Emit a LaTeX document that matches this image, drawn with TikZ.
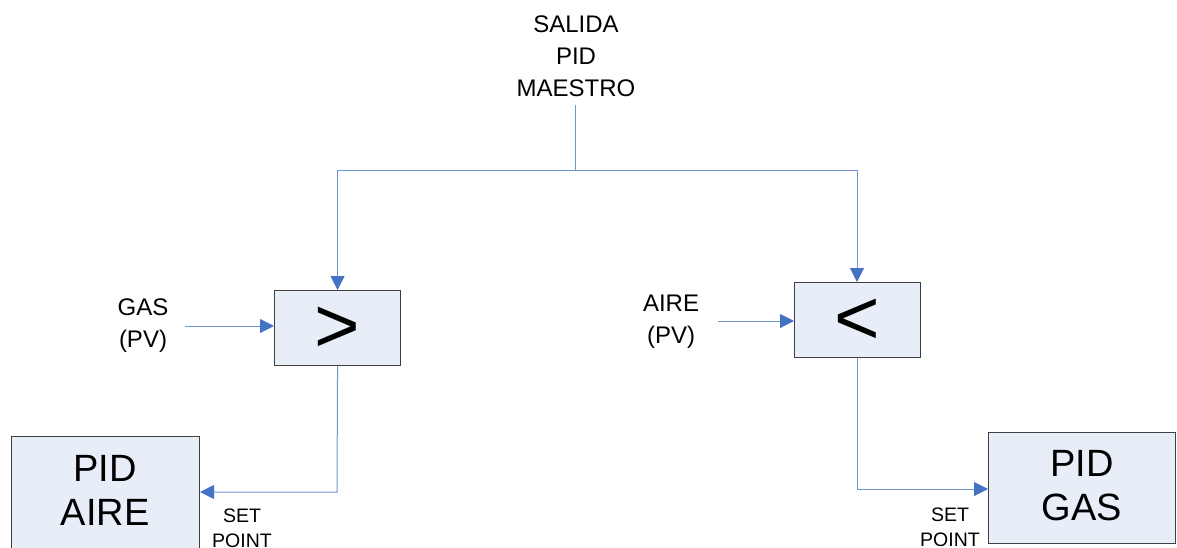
\documentclass[tikz,border=0pt]{standalone}
\usepackage{fontspec}
\setmainfont{Liberation Sans}
\usetikzlibrary{arrows.meta}
\definecolor{wireblue}{RGB}{112,150,210}
\definecolor{tipblue}{RGB}{68,114,196}
\definecolor{boxfill}{RGB}{232,238,247}
\definecolor{boxline}{RGB}{64,64,64}
\begin{document}
\begin{tikzpicture}[x=1pt,y=-1pt,
  block/.style={draw=boxline,fill=boxfill,line width=1.1pt,inner sep=0pt,anchor=north west},
  wire/.style={draw=wireblue,line width=1pt,-{Triangle[length=14pt,width=14pt,color=tipblue]}},
  plain/.style={draw=wireblue,line width=1pt},
  sign/.style={inner sep=0pt,font=\fontsize{78}{78}\selectfont},
  lbl/.style={align=center,inner sep=0pt,font=\fontsize{24}{32}\selectfont},
  small/.style={align=center,inner sep=0pt,font=\fontsize{19.5}{25}\selectfont},
  big/.style={align=center,inner sep=0pt,font=\fontsize{38}{44}\selectfont}]
\useasboundingbox (0,0) rectangle (1177,547);
% comparator blocks
\node[block,minimum width=126pt,minimum height=75pt] (gt) at (274,290) {};
\node[sign] (gtsign) at ([yshift=-2pt]gt.center) {>};
\node[block,minimum width=126pt,minimum height=75pt] (lt) at (794,282) {};
\node[sign] (ltsign) at ([yshift=-2pt]lt.center) {<};
% controller blocks
\node[block,minimum width=188pt,minimum height=130pt] (aire) at (11,436) {};
\node[big] (airetxt) at (105,490) {PID\\AIRE};
\node[block,minimum width=187pt,minimum height=111pt] (gas) at (988,432) {};
\node[big] (gastxt) at (1082,486) {PID\\GAS};
% labels
\node[lbl] (master) at (576,56) {SALIDA\\PID\\MAESTRO};
\node[lbl] (gaspv) at (143,326) {GAS\\(PV)};
\node[lbl] (airepv) at (671,322) {AIRE\\(PV)};
\node[small] (sp1) at (242,528) {SET\\POINT};
\node[small] (sp2) at (950,527) {SET\\POINT};
% junction points
\coordinate (top) at (575,105);
\coordinate (split) at (575,170);
\coordinate (gin) at (185,326);
\coordinate (ain) at (718,321);
% master output split
\draw[plain] (top) -- (split);
\draw[wire] (split) -| (gt.north);
\draw[wire] (split) -| (lt.north -| 857,0);
% process variable inputs
\draw[wire] (gin) -- (gin -| gt.west);
\draw[wire] (ain) -- (ain -| lt.west);
% set point outputs
\draw[wire] (gt.south) -- (337,492) -- (aire.east |- 0,492);
\draw[wire] (lt.south -| 857,0) -- (857,489) -- (gas.west |- 0,489);
\end{tikzpicture}
\end{document}
